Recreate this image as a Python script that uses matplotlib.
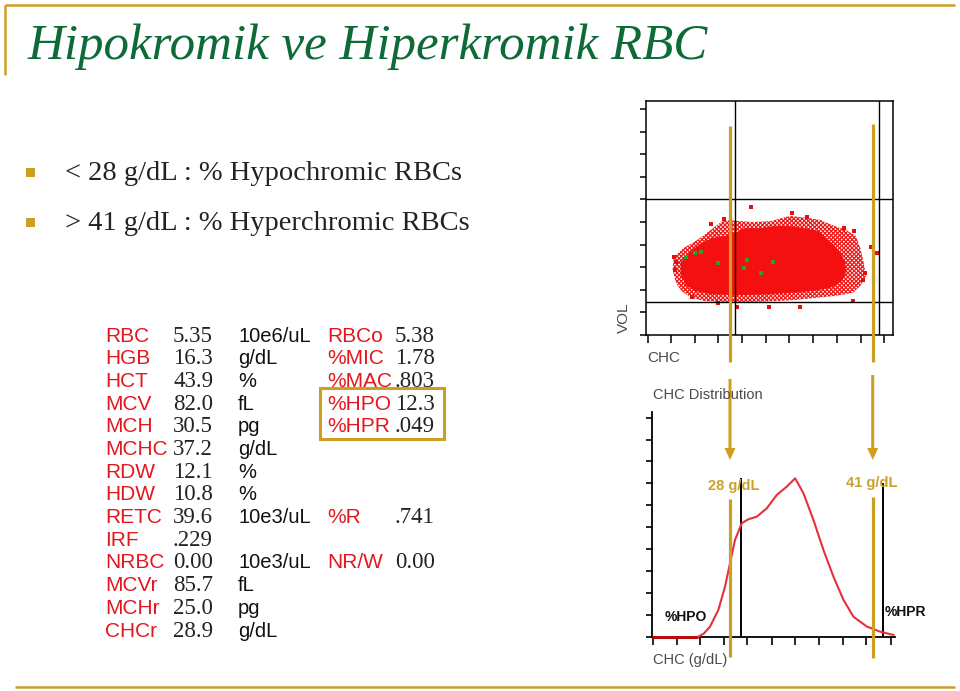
import numpy as np
import matplotlib
matplotlib.use("Agg")
import matplotlib.pyplot as plt
from matplotlib.patches import Rectangle

# ---- data ----
labels = ['RBC', 'HGB', 'HCT', 'MCV', 'MCH', 'MCHC', 'RDW', 'HDW', 'RETC', 'IRF',
          'NRBC', 'MCVr', 'MCHr', 'CHCr']
values = ['5.35', '16.3', '43.9', '82.0', '30.5', '37.2', '12.1', '10.8', '39.6', '.229',
          '0.00', '85.7', '25.0', '28.9']
units = ['10e6/uL', 'g/dL', '%', 'fL', 'pg', 'g/dL', '%', '%', '10e3/uL', '',
         '10e3/uL', 'fL', 'pg', 'g/dL']
right_rows = [0, 1, 2, 3, 4, 8, 10]
right_labels = ['RBCo', '%MIC', '%MAC', '%HPO', '%HPR', '%R', 'NR/W']
right_values = ['5.38', '1.78', '.803', '12.3', '.049', '.741', '0.00']

bullets = ['< 28 g/dL : % Hypochromic RBCs', '> 41 g/dL : % Hyperchromic RBCs']

# CHC distribution curve (CHC g/dL, relative count)
chc_x = [20.0, 24.24, 24.75, 25.30, 26.05, 26.66, 27.12, 27.57, 28.18, 28.78, 29.55, 30.45,
         31.36, 32.27, 33.03, 33.78, 34.69, 35.60, 36.51, 37.42, 38.33, 39.55, 40.75, 41.96]
chc_y = [0.0, 0.0, 1.5, 4.6, 12.2, 22.8, 33.7, 44.2, 51.8, 53.6, 54.8, 58.6,
         64.7, 68.5, 72.3, 65.5, 53.3, 39.6, 27.4, 16.8, 9.1, 4.6, 2.3, 0.8]
cut_lo, cut_hi = 28, 41
cut_heights = [72.5, 70.2]

# CHC vs VOL cytogram: outline of the red cloud (outer sparse fringe, dense core)
outer_x = [22.5, 23.4, 24.6, 25.6, 27.0, 28.5, 29.6, 31.2, 33.0, 34.6, 35.7, 37.0, 38.0,
           38.9, 39.3, 39.6, 39.8, 39.3, 38.6, 37.0, 35.2, 33.4, 31.6, 29.4, 27.1, 25.3,
           24.1, 23.2, 22.7, 22.4]
outer_y = [34.5, 38.5, 42.0, 45.6, 50.9, 50.4, 50.0, 50.4, 52.7, 51.8, 50.9, 48.2, 46.5,
           43.8, 38.5, 32.3, 26.1, 21.7, 18.6, 17.3, 16.4, 15.5, 15.0, 14.6, 14.6, 15.0,
           16.4, 19.5, 23.0, 28.8]
core_x = [23.15, 23.96, 24.86, 25.95, 27.12, 28.02, 28.92, 30.27, 31.62, 32.97, 34.32, 35.50,
          36.22, 36.94, 37.48, 37.93, 38.02, 37.66, 36.58, 34.95, 32.97, 31.17, 29.37, 27.57,
          25.77, 24.41, 23.60, 23.15]
core_y = [32.3, 36.7, 40.3, 42.9, 43.8, 45.1, 47.3, 47.3, 48.2, 48.2, 47.3, 46.0,
          42.9, 39.8, 36.7, 32.3, 27.9, 23.9, 20.8, 19.5, 18.6, 18.1, 17.7, 17.7,
          18.1, 19.5, 22.1, 26.5]
stray_x = [29.46, 33.13, 27.03, 34.48, 37.86, 38.74, 40.27, 40.84, 39.73, 39.55, 38.62,
           33.87, 31.08, 28.17, 26.49, 22.52, 22.70, 22.61, 24.14, 25.86]
stray_y = [56.6, 53.8, 51.2, 52.1, 47.2, 46.2, 38.8, 36.4, 27.4, 24.3, 15.2,
           12.4, 12.4, 12.3, 14.2, 34.6, 32.4, 28.8, 16.9, 49.1]
green_x = [23.60, 24.41, 24.93, 26.49, 28.83, 29.07, 30.33, 31.44]
green_y = [34.4, 36.2, 36.6, 31.7, 29.8, 33.2, 27.3, 32.4]
vol_lines = [60, 14.7]

scat_xticks = [20.15, 22.25, 24.41, 26.51, 28.62, 30.78, 32.91, 35.07, 37.18, 39.34, 41.44]
hist_xticks = [20.1, 22.3, 24.4, 26.6, 28.7, 30.9, 33.0, 35.2, 37.4, 39.5, 41.7]

gold = '#cc9f22'
green = '#0e6a37'
red = '#e3171f'
grey = '#4a4a4a'
sans = 'Liberation Sans'

plt.rcParams['hatch.linewidth'] = 0.9

fig = plt.figure(figsize=(9.6, 6.91), dpi=100)

# slide background layer in pixel units
base = fig.add_axes([0, 0, 1, 1])
base.set_xlim(0, 960)
base.set_ylim(691, 0)
base.axis('off')

base.plot([5, 955], [5, 5], color=gold, lw=1.8, solid_capstyle='butt')
base.plot([5, 5], [5, 75], color=gold, lw=1.8, solid_capstyle='butt')
base.plot([15, 955], [687, 687], color=gold, lw=1.8, solid_capstyle='butt')

base.text(28, 59, 'Hipokromik ve Hiperkromik RBC', fontsize=36.7, style='italic',
          family='Liberation Serif', color=green, va='baseline')

for i, b in enumerate(bullets):
    base.add_patch(Rectangle((26, 168 + 50 * i), 9, 9, color=gold, lw=0))
    base.text(65, 180 + 50 * i, b, fontsize=20.5, family='Liberation Serif',
              color='#222222', va='baseline')

# lab value table
for i in range(len(labels)):
    yb = 341.5 + 22.7 * i
    base.text(105, yb, labels[i], fontsize=15, family=sans, color=red, va='baseline')
    base.text(173, yb, values[i], fontsize=16.5, family='Liberation Serif',
              color='#222222', va='baseline')
    base.text(238, yb, units[i], fontsize=14.5, family=sans, color='#111111',
              va='baseline')
for r, lab, val in zip(right_rows, right_labels, right_values):
    yb = 341.5 + 22.7 * r
    base.text(327, yb, lab, fontsize=15, family=sans, color=red, va='baseline')
    base.text(395, yb, val, fontsize=16.5, family='Liberation Serif',
              color='#222222', va='baseline')
base.add_patch(Rectangle((319.5, 387.5), 124.5, 51, fill=False, edgecolor=gold, lw=2.2))

# cytogram
ax_s = fig.add_axes([646 / 960, 1 - 335 / 691, 246.7 / 960, 234.3 / 691])
ax_s.set_xlim(20, 42.22)
ax_s.set_ylim(0, 103.7)
ax_s.fill(outer_x, outer_y, facecolor='none', edgecolor='#f01818', hatch='xxxxxxxx', lw=0)
ax_s.fill(core_x, core_y, facecolor='#f41010', lw=0)
ax_s.scatter(stray_x, stray_y, s=5, marker='s', color='#e31010', lw=0)
ax_s.scatter(green_x, green_y, s=6, marker='s', color='#2aa12a', lw=0)
for v in [cut_lo, cut_hi]:
    ax_s.axvline(v, color='black', lw=1.0)
for h in vol_lines:
    ax_s.axhline(h, color='black', lw=1.0)
ax_s.set_xticks(scat_xticks)
ax_s.set_yticks(np.arange(0, 101, 10))
ax_s.set_xticklabels([])
ax_s.set_yticklabels([])
ax_s.tick_params(axis='x', direction='out', length=5.5, width=1.1)
ax_s.tick_params(axis='y', direction='out', length=4.5, width=1.1)
for sp in ax_s.spines.values():
    sp.set_linewidth(1.1)

# CHC histogram
ax_h = fig.add_axes([651.7 / 960, 1 - 636.7 / 691, 243.3 / 960, 225 / 691])
ax_h.set_xlim(20, 42.1)
ax_h.set_ylim(0, 102.7)
ax_h.plot(chc_x[:2], chc_y[:2], color='#b80c0c', lw=2.2, solid_capstyle='butt',
          zorder=4, clip_on=False)
ax_h.plot(chc_x[1:], chc_y[1:], color='#e6303c', lw=1.5, zorder=4, clip_on=False)
ax_h.vlines([cut_lo + 0.1, cut_hi + 0.05], 0, cut_heights, color='black', lw=1.4)
ax_h.spines['top'].set_visible(False)
ax_h.spines['right'].set_visible(False)
ax_h.spines['left'].set_linewidth(1.3)
ax_h.spines['bottom'].set_linewidth(1.3)
ax_h.set_xticks(hist_xticks)
ax_h.set_yticks(np.arange(0, 101, 10))
ax_h.set_xticklabels([])
ax_h.set_yticklabels([])
ax_h.tick_params(axis='x', direction='out', length=5.5, width=1.2)
ax_h.tick_params(axis='y', direction='out', length=4.5, width=1.2)
ax_h.patch.set_alpha(0)

# overlay: markers of the 28 / 41 g/dL limits
top = fig.add_axes([0, 0, 1, 1])
top.set_xlim(0, 960)
top.set_ylim(691, 0)
top.axis('off')
top.patch.set_alpha(0)
for x, (y0, y1) in [(729.5, (126, 362)), (873.3, (124, 362)),
                    (730, (499, 657)), (873.3, (497, 658))]:
    top.plot([x, x], [y0, y1], color=gold, lw=2.3, solid_capstyle='butt')
for x, y0, y1 in [(730, 379, 460), (872.7, 375, 460)]:
    top.arrow(x, y0, 0, y1 - y0, width=3, head_width=11, head_length=12,
              length_includes_head=True, color=gold, lw=0)

top.text(734, 486, '28 g/dL', fontsize=10.5, weight='bold', color='#c9a227',
         ha='center', va='center', family=sans)
top.text(872, 483, '41 g/dL', fontsize=10.5, weight='bold', color='#c9a227',
         ha='center', va='center', family=sans)
top.text(686, 617, '%HPO', fontsize=10, weight='bold', color='#111111',
         ha='center', va='center', family=sans)
top.text(905, 612, '%HPR', fontsize=10, weight='bold', color='#111111',
         ha='center', va='center', family=sans)
top.text(653, 395, 'CHC Distribution', fontsize=10.5, color=grey,
         ha='left', va='center', family=sans)
top.text(653, 660, 'CHC (g/dL)', fontsize=10.5, color=grey,
         ha='left', va='center', family=sans)
top.text(647, 358, 'CHC', fontsize=11, color=grey, ha='left', va='center',
         family=sans)
top.text(624, 318, 'VOL', fontsize=11, color=grey, ha='center', va='center',
         rotation=90, family=sans)

fig.savefig('out.png', dpi=100)
